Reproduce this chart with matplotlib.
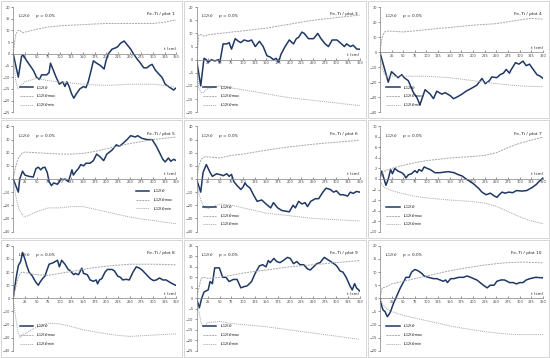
import matplotlib.pyplot as plt
import numpy as np
from matplotlib.patches import Rectangle

# ---- data (t in cm, L12 values) ----
env_t = [0, 5, 10, 15, 20, 25, 50, 75, 100, 125, 150, 175, 200, 225, 250, 275, 300, 325, 350]

p1_t = [0, 11, 18, 21, 29, 36, 43, 50, 56, 61, 72, 77, 80, 86, 92, 99, 106, 111, 115, 120, 125, 130, 136, 143, 151, 156, 161, 166, 172, 179, 187, 195, 199, 204, 212, 219, 224, 230, 238, 244, 252, 258, 265, 273, 280, 287, 293, 298, 305, 314, 319, 326, 333, 344, 350]
p1_v = [0, -10, -1, -0.5, -3, -5, -7, -10, -11, -9, -9, -8, -4, -7, -10, -13, -12, -14, -12, -14, -17, -19, -17, -15, -14, -14.5, -12, -8, -3, -4, -5, -6.5, -3, 0, 2, 2.5, 3, 4.5, 5.5, 4, 2, 0, -2, -4, -6, -6, -5, -4.5, -7, -9, -10, -13, -14, -15.5, -14.5]
p1_up = [0, 8, 10, 10, 9, 9.3, 10.5, 11.5, 12, 12.3, 12.5, 12.8, 13, 13, 13, 13, 13, 13.6, 14.5]
p1_lo = [0, -11, -15, -14, -13, -12, -10.5, -11.5, -12, -12.5, -13, -13.3, -13.5, -13.3, -13, -13, -13, -13.6, -14.5]

p3_t = [0, 9, 16, 21, 25, 32, 39, 47, 50, 54, 57, 65, 70, 75, 83, 90, 95, 102, 111, 118, 126, 135, 143, 151, 158, 165, 171, 176, 181, 190, 199, 208, 214, 219, 226, 231, 240, 251, 260, 267, 276, 283, 291, 301, 308, 317, 322, 330, 336, 344, 350]
p3_v = [0, -10, 0.5, 0, -1, 0, -0.5, 0, -1, 3, 6, 6, 6.5, 4, 8, 7, 6.5, 7.5, 7, 7.5, 5, 7, 5, 1.5, 1, 0, 0.5, -1, 2, 5, 7.5, 6, 8, 8.5, 10.5, 10, 8, 8, 10, 8, 6, 5, 7.5, 7.5, 6.5, 5, 6, 5, 5.5, 4, 4]
p3_up = [0, 9.5, 9.5, 9, 9.2, 9.5, 10, 10.5, 11, 11.5, 12, 12.8, 13.5, 14.3, 15, 15.5, 16, 16.5, 17]
p3_lo = [0, -11, -12.5, -12.5, -11.5, -11, -10, -10.8, -11.5, -12.2, -13, -13.8, -14.5, -15, -15.5, -16, -16.5, -17, -17.5]

p4_t = [0, 18, 25, 32, 39, 47, 52, 61, 72, 79, 86, 97, 108, 115, 122, 133, 140, 151, 158, 165, 176, 185, 197, 208, 219, 226, 235, 240, 251, 258, 265, 271, 278, 281, 291, 298, 307, 314, 321, 330, 337, 344, 350]
p4_v = [0, -20, -13, -15, -17, -15, -17, -19, -27, -30, -35, -25, -28, -31, -26, -28, -27, -29, -31, -30, -28, -26, -24, -22, -17.5, -21, -19, -16.5, -17, -15, -14, -11.5, -14, -12, -7, -8, -6, -9, -8, -12, -15, -16, -17.5]
p4_up = [0, 10, 13.5, 14, 14, 14, 13.5, 14.2, 15, 15.8, 16.5, 17.2, 18, 18.5, 19, 20.3, 21.5, 22.5, 22]
p4_lo = [0, -11, -15, -16, -16, -16, -16, -16, -16, -16.5, -17, -18, -19, -20, -21, -21.8, -22.5, -22.8, -23]

p5_t = [0, 11, 14, 20, 25, 34, 43, 49, 54, 59, 63, 68, 73, 77, 82, 87, 95, 99, 102, 108, 111, 118, 122, 126, 129, 135, 140, 145, 151, 156, 165, 172, 179, 186, 194, 201, 212, 221, 228, 235, 244, 252, 262, 267, 276, 287, 298, 307, 314, 321, 326, 333, 338, 344, 350]
p5_v = [0, -10, 0, 6, 3, 2, 1.5, 8, 9, 7, 8.5, 9, 5, -2, -5, -3, -4, -2, 0, -0.5, 0, -2, 2, 7, 3, 6, 8, 11, 10, 12, 12, 14, 19, 17, 14, 19, 22, 26, 25, 27, 30, 33, 32, 33, 31, 30, 30, 25, 20, 15, 13, 16, 13.5, 15, 14]
p5_up = [0, 9, 15, 18, 20, 20.5, 20, 19.5, 19, 19, 19.5, 21, 23, 25, 27, 28.5, 30, 31, 32]
p5_lo = [0, -12, -20, -25, -27, -29, -25, -22, -22, -21, -21, -23, -25, -27, -29, -30.5, -31.5, -33, -34]

p6_t = [0, 9, 14, 21, 29, 34, 43, 54, 57, 65, 70, 75, 80, 87, 95, 100, 104, 108, 115, 122, 130, 140, 149, 159, 165, 174, 183, 199, 207, 212, 219, 226, 233, 238, 245, 255, 262, 271, 278, 287, 294, 300, 308, 315, 324, 330, 336, 343, 350]
p6_v = [0, -10, 5, 11, 5, 2, 4, 3, 2.5, 4, 2, 3.5, -2, -5, -8, -6, -3, -5, -7, -12, -17, -16, -19, -22, -18, -22, -24, -25, -20, -22, -17, -19, -18, -21, -17, -15, -15, -10, -7, -8, -10, -9, -12, -12, -13, -10, -11, -9.5, -10]
p6_up = [0, 10, 15, 16.5, 17, 16.8, 16, 18, 19, 20.5, 22, 23.3, 24.5, 25.5, 26.5, 27.3, 28, 28.8, 29.5]
p6_lo = [0, -11, -17, -20.5, -22, -22.5, -19, -20, -22, -24, -26, -27, -28, -29, -30, -30.5, -31, -31.5, -32]

p7_t = [0, 4, 13, 18, 23, 27, 32, 39, 47, 52, 56, 61, 68, 75, 80, 84, 90, 95, 102, 108, 113, 118, 129, 137, 147, 159, 169, 176, 185, 194, 202, 212, 219, 228, 237, 245, 251, 256, 262, 269, 276, 285, 293, 305, 315, 327, 336, 341, 350]
p7_v = [0, 1.5, -1.2, 0, 1.8, 1, 2, 1.5, 1.2, 0.8, 0.2, 0.8, 1, 1.6, 1.2, 1.8, 1.5, 2.3, 2, 1.8, 1.5, 1.2, 1.2, 1.3, 1.4, 1.2, 0.8, 0.6, 0, -0.5, -1, -1.8, -2.5, -3, -2.7, -3.2, -3.5, -3, -2.5, -2.7, -2.5, -2.6, -2.2, -2.3, -2.2, -1.6, -1, -0.5, 0.2]
p7_up = [0, 1.1, 1.5, 1.7, 1.85, 2, 2.6, 3.1, 3.5, 3.75, 4, 4.15, 4.3, 4.5, 5, 6, 6.8, 7.4, 8]
p7_lo = [0, -1.2, -1.6, -1.8, -2, -2.2, -2.8, -3.3, -3.6, -3.8, -4, -4.15, -4.3, -4.6, -5.2, -6.2, -7.2, -8, -8.5]

p8_t = [0, 6, 11, 16, 20, 25, 29, 34, 41, 49, 54, 57, 63, 68, 73, 77, 85, 90, 95, 99, 104, 111, 118, 122, 130, 133, 140, 143, 147, 151, 159, 165, 172, 178, 181, 185, 190, 197, 202, 212, 217, 224, 230, 235, 242, 249, 257, 264, 271, 278, 286, 294, 301, 307, 314, 321, 328, 337, 348]
p8_v = [0, 15, 25, 28, 35, 30, 25, 20, 17, 12, 10, 12, 15, 17, 22, 26, 27, 28, 29, 24, 29, 26, 22, 21, 18, 19, 18, 20, 23, 19, 18, 14, 13, 14, 11, 14, 15, 20, 22, 22, 21, 17, 16, 14, 14.5, 14, 20, 24, 23, 21, 18, 15, 13.5, 14, 15.5, 14, 14, 12, 10]
p8_up = [0, 8, 15, 19, 20, 19.5, 18, 17.5, 19, 20.5, 22, 23.5, 24.5, 25.3, 26, 26, 26, 25.8, 25.5]
p8_lo = [0, -14, -25, -30, -27.5, -27, -22, -19, -19.5, -21.5, -24, -25.5, -27, -28.2, -29, -28.5, -28, -27.5, -27]

p9_t = [0, 6, 11, 16, 20, 25, 29, 34, 39, 49, 56, 63, 70, 79, 87, 95, 101, 109, 118, 126, 135, 142, 149, 154, 158, 166, 172, 179, 186, 195, 201, 208, 215, 222, 230, 238, 244, 251, 258, 265, 274, 281, 288, 298, 302, 308, 314, 321, 329, 334, 339, 343, 350]
p9_v = [0, -4.5, 0, 3, 3.5, 4, 8, 7, 14.5, 14.5, 10, 10, 8, 9, 9, 5, 5.5, 6, 8, 12, 15.5, 16, 15, 18, 17, 19, 17.5, 17, 18, 19.5, 19, 16.5, 17.5, 16, 16, 14, 13.5, 15, 16.5, 17, 19.5, 18.5, 17.5, 16, 15, 13, 12.5, 10, 6, 4, 7, 5, 3.5]
p9_up = [0, 5, 9.5, 10, 9.7, 9.5, 10, 11, 12, 12.8, 13.5, 14.3, 15, 15.5, 16, 16.5, 17, 17.5, 18]
p9_lo = [0, -6, -12, -13.5, -12.5, -11.5, -11, -12, -12.5, -13, -13.5, -14.3, -15, -15.8, -16.5, -17.3, -18, -18.8, -19.5]

p10_t = [0, 4, 7, 11, 16, 20, 23, 29, 34, 39, 44, 50, 56, 63, 68, 75, 82, 90, 95, 104, 115, 122, 129, 136, 141, 145, 152, 159, 169, 179, 187, 195, 201, 208, 215, 222, 230, 237, 245, 251, 260, 267, 273, 278, 286, 293, 300, 307, 314, 322, 334, 350]
p10_v = [0, -3, -4.5, -5, -7, -6, -5, -2, 0, 2, 4, 6, 8, 8, 10, 11, 10.5, 9.5, 8.5, 8, 7.5, 7.5, 7, 6.5, 7, 6, 7.5, 7.5, 8, 8, 8.5, 8, 7.5, 7, 6, 5, 4, 5, 5, 6.5, 7, 7, 6.5, 6, 6, 5.5, 6, 6, 7, 7.5, 8, 7.8]
p10_up = [0, 4, 4.2, 4.5, 5, 5.5, 6.5, 7.5, 8.5, 9.5, 10.5, 11.3, 12, 12.7, 13.2, 13.6, 13.8, 13.7, 13.5]
p10_lo = [0, -2, -3, -4, -4.5, -5, -6.5, -7.5, -8.5, -9.5, -10.5, -11.3, -12, -12.7, -13.2, -13.6, -13.8, -13.8, -13.8]

plot_names = ['plot 1', 'plot 3', 'plot 4', 'plot 5', 'plot 6', 'plot 7', 'plot 8', 'plot 9', 'plot 10']
y_limits = [(-25, 20, 5), (-20, 20, 5), (-40, 30, 10), (-40, 40, 10), (-40, 40, 10),
            (-10, 10, 2), (-40, 40, 10), (-25, 25, 5), (-20, 20, 5)]
x_ticks = list(range(25, 351, 25))

panels = [
    (p1_t, p1_v, p1_up, p1_lo), (p3_t, p3_v, p3_up, p3_lo), (p4_t, p4_v, p4_up, p4_lo),
    (p5_t, p5_v, p5_up, p5_lo), (p6_t, p6_v, p6_up, p6_lo), (p7_t, p7_v, p7_up, p7_lo),
    (p8_t, p8_v, p8_up, p8_lo), (p9_t, p9_v, p9_up, p9_lo), (p10_t, p10_v, p10_up, p10_lo),
]

LINE_COL = '#1f3864'
ENV_COL = '#a6a6a6'
fs = 3.2

fig = plt.figure(figsize=(5.5, 3.58), dpi=100)
cell_w = 1 / 3
cell_h = 1 / 3

for i, (t, v, up, lo) in enumerate(panels):
    r, c = divmod(i, 3)
    x0 = c * cell_w
    y0 = 1 - (r + 1) * cell_h
    # light frame around each chart
    fig.patches.append(Rectangle((x0 + 0.002, y0 + 0.003), cell_w - 0.004, cell_h - 0.006,
                                 transform=fig.transFigure, fill=False,
                                 edgecolor='#d0d0d0', lw=0.6))
    ax = fig.add_axes([x0 + cell_w * 0.072, y0 + cell_h * 0.06,
                       cell_w * 0.89, cell_h * 0.88])
    lo_lim, hi_lim, step = y_limits[i]

    l1, = ax.plot(t, v, color=LINE_COL, lw=1.1)
    l2, = ax.plot(env_t, up, color=ENV_COL, lw=0.7, ls=(0, (2, 1)))
    l3, = ax.plot(env_t, lo, color=ENV_COL, lw=0.7, ls=(0, (1, 1)))

    ax.set_xlim(0, 350)
    ax.set_ylim(lo_lim, hi_lim)
    ax.set_yticks(np.arange(lo_lim, hi_lim + step / 2, step))
    ax.set_xticks(x_ticks)
    ax.spines['top'].set_visible(False)
    ax.spines['right'].set_visible(False)
    ax.spines['bottom'].set_position(('data', 0))
    for s in ('left', 'bottom'):
        ax.spines[s].set_color('#808080')
        ax.spines[s].set_linewidth(0.5)
    ax.tick_params(axis='both', labelsize=2.5, length=1.2, width=0.4, pad=1,
                   colors='#404040')
    ax.tick_params(axis='x', direction='in')

    ax.text(0.03, 0.95, r'$L_{12}(t)$    $p$ = 0.05', transform=ax.transAxes,
            fontsize=fs, va='top', ha='left', color='#222222')
    ax.text(0.99, 0.95, 'Fe–Ti / ' + plot_names[i], transform=ax.transAxes,
            fontsize=fs, va='top', ha='right', color='#222222')
    ax.text(350, (hi_lim - lo_lim) * 0.025, 't (cm)', fontsize=fs * 0.9,
            ha='right', va='bottom', color='#222222')

    labels = [r'$L_{12}(t)$', r'$L_{12}(t)_{\rm max}$', r'$L_{12}(t)_{\rm min}$']
    if i == 3:
        loc = dict(loc='center right', bbox_to_anchor=(1.0, 0.3))
    else:
        loc = dict(loc='lower left', bbox_to_anchor=(0.02, 0.0))
    ax.legend([l1, l2, l3], labels, frameon=False, fontsize=fs, handlelength=3,
              labelspacing=0.25, borderpad=0.2, **loc)

fig.savefig('out.png', dpi=100)
